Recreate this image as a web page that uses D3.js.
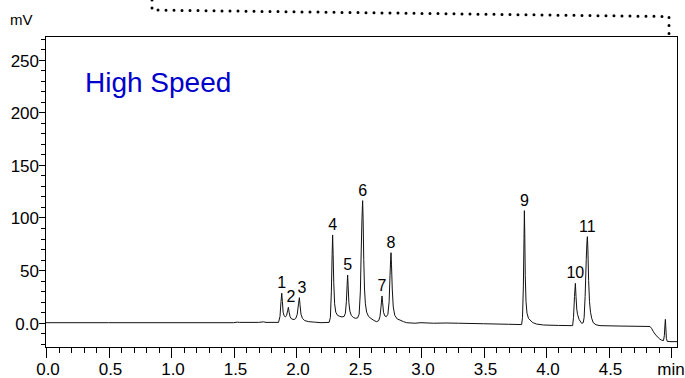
<!DOCTYPE html>
<html><head><meta charset="utf-8">
<script src="https://cdn.jsdelivr.net/npm/d3@7"></script>
<style>
html,body{margin:0;padding:0;background:#fff;}
svg{display:block;font-family:"Liberation Sans",Arial,Helvetica,sans-serif;}
</style></head>
<body>
<svg id="chart" width="685" height="378"></svg>
<script>
// ---- data ----
const traceTime = [0.00,0.50,1.00,1.50,1.53,1.55,1.70,1.74,1.76,1.86,
 1.872,1.880,1.886,1.891,1.897,1.905,1.915,1.925,1.933,1.939,1.945,1.953,1.965,1.985,1.998,2.010,2.020,2.027,2.032,2.040,2.052,2.07,2.10,2.15,2.20,
 2.265,2.275,2.283,2.289,2.293,2.297,2.302,2.309,2.318,2.332,2.350,2.368,2.385,2.395,2.403,2.409,2.413,2.417,2.423,2.431,2.442,2.458,2.475,2.492,
 2.505,2.515,2.522,2.528,2.533,2.537,2.542,2.548,2.555,2.565,2.580,2.600,2.625,2.645,2.662,2.672,2.680,2.688,2.693,2.700,2.710,2.722,
 2.735,2.745,2.752,2.757,2.760,2.764,2.770,2.778,2.790,2.810,2.832,2.860,2.885,2.95,3.00,3.10,3.20,3.30,3.50,3.70,
 3.805,3.812,3.819,3.824,3.827,3.830,3.834,3.840,3.848,3.860,3.872,3.895,3.925,3.98,4.10,
 4.213,4.220,4.228,4.235,4.240,4.246,4.252,4.265,4.285,4.298,4.305,4.313,4.322,4.328,4.331,4.335,4.341,4.348,4.356,4.366,4.378,4.40,4.432,4.60,
 4.832,4.845,4.859,4.872,4.885,4.900,4.912,4.925,4.940,4.947,4.951,4.955,4.959,4.963,4.970,5.000,5.050];
const traceMv = [0,0,0,0,0.5,0.3,0.3,0.8,0.3,0.3,
 6,20,28,20,10,6.5,5.5,7,11.5,14.6,10,5.5,3.5,3,4,8,18,23.8,17,8,4,2,1,0.5,0,
 0.3,5,30,65,83.4,65,38,18,10,7,6,5.5,6,9,20,36,45.3,35,19,11,7,5,4.2,4.5,
 8,30,70,100,116,98,60,32,18,10,6,4,2,1,2,6,15,25.4,19,10,6.5,5.7,
 8,20,45,60,66.5,55,32,15,7,3.5,2.5,1,0,-0.5,0,-0.5,-0.3,-0.5,-1,-1.5,
 -1.8,5,35,80,106.5,85,45,20,9,4,2.6,0,-1.3,-2.2,-2.6,
 -2.8,5,25,37.4,25,13,8,3,-0.6,0,5,25,60,78,81.8,70,40,20,10,4,0,-2,-2.8,-3.2,
 -3.6,-5.5,-8.5,-10.8,-12.6,-14.5,-15.8,-16.6,-17,-12,-3,3.2,-6,-15,-17.8,-18,-18];

const peakNames = ["1","2","3","4","5","6","7","8","9","10","11"];
const peakTimes = [1.886,1.939,2.027,2.293,2.413,2.533,2.688,2.760,3.827,4.235,4.331];
const peakMv    = [28,14.6,23.8,83.4,45.3,116,25.4,66.5,106.5,37.4,81.8];

const xTickLabels = ["0.0","0.5","1.0","1.5","2.0","2.5","3.0","3.5","4.0","4.5"];
const xTickValues = [0,0.5,1.0,1.5,2.0,2.5,3.0,3.5,4.0,4.5];
const yTickLabels = ["0.0","50","100","150","200","250"];
const yTickValues = [0,50,100,150,200,250];

const titleText = "High Speed";
const yUnit = "mV";
const xUnit = "min";
// recorder-pen dotted trace above the frame (time, mV)
const dottedTime = [0.848,0.848,4.984,4.984];
const dottedMv   = [306.7,297.2,291.0,272.5];

// ---- layout ----
const L = 45, R = 677, T = 36, B = 347;
const svg = d3.select("#chart");
const x = d3.scaleLinear().domain([-0.008, 5.048]).range([L, R]);
const y = d3.scaleLinear().domain([-23.1, 272.5]).range([B, T]);
const fs = 17;

// clip
svg.append("clipPath").attr("id","clip").append("rect")
  .attr("x",L).attr("y",T).attr("width",R-L).attr("height",B-T);

// trace
const pts = traceTime.map((t,i)=>[t, traceMv[i]]);
svg.append("path").datum(pts)
  .attr("clip-path","url(#clip)")
  .attr("fill","none").attr("stroke","#111").attr("stroke-width",1)
  .attr("stroke-linejoin","round")
  .attr("d", d3.line().x(d=>x(d[0])).y(d=>y(d[1])));

// frame
svg.append("rect").attr("x",L+0.5).attr("y",T+0.5)
  .attr("width",R-L).attr("height",B-T)
  .attr("fill","none").attr("stroke","#000").attr("stroke-width",1);

// x ticks
const xMinor = d3.range(0, 51).map(i=>i/10);
svg.append("g").selectAll("line").data(xMinor).join("line")
  .attr("x1",d=>Math.round(x(d))+0.5).attr("x2",d=>Math.round(x(d))+0.5)
  .attr("y1",B).attr("y2",(d,i)=> i%5===0 ? B+11 : B+6)
  .attr("stroke","#000").attr("stroke-width",1);
svg.append("g").selectAll("text").data(xTickValues).join("text")
  .attr("x",d=>x(d)+2).attr("y",375)
  .attr("text-anchor","middle").attr("font-size",fs).attr("fill","#000")
  .text((d,i)=>xTickLabels[i]);
svg.append("text").attr("x",x(5.0)).attr("y",375)
  .attr("text-anchor","middle").attr("font-size",fs).text(xUnit);

// y ticks
const yMinor = d3.range(-20, 271, 10);
svg.append("g").selectAll("line").data(yMinor).join("line")
  .attr("y1",d=>Math.round(y(d))+0.5).attr("y2",d=>Math.round(y(d))+0.5)
  .attr("x1",d=> d%50===0 ? L-6 : L-4).attr("x2",L)
  .attr("stroke","#000").attr("stroke-width",1);
svg.append("g").selectAll("text").data(yTickValues).join("text")
  .attr("x",L-6).attr("y",d=>y(d)+7)
  .attr("text-anchor","end").attr("font-size",fs).attr("fill","#000")
  .text((d,i)=>yTickLabels[i]);
svg.append("text").attr("x",10).attr("y",25).attr("font-size",15).text(yUnit);

// title
svg.append("text").attr("x",85).attr("y",92)
  .attr("font-size",28).attr("fill","#0000cc").text(titleText);

// peak labels
svg.append("g").selectAll("text").data(peakNames).join("text")
  .attr("x",(d,i)=>x(peakTimes[i]) + (i===1||i===2 ? 2.5 : 0))
  .attr("y",(d,i)=>y(peakMv[i]) - 5)
  .attr("text-anchor","middle").attr("font-size",16).attr("fill","#000")
  .text(d=>d);

// dotted recorder line
svg.append("path")
  .datum(dottedTime.map((t,i)=>[t, dottedMv[i]]))
  .attr("fill","none").attr("stroke","#000").attr("stroke-width",3)
  .attr("stroke-linecap","round").attr("stroke-dasharray","0 8")
  .attr("d", d3.line().x(d=>x(d[0])).y(d=>y(d[1])));
</script>
</body></html>
